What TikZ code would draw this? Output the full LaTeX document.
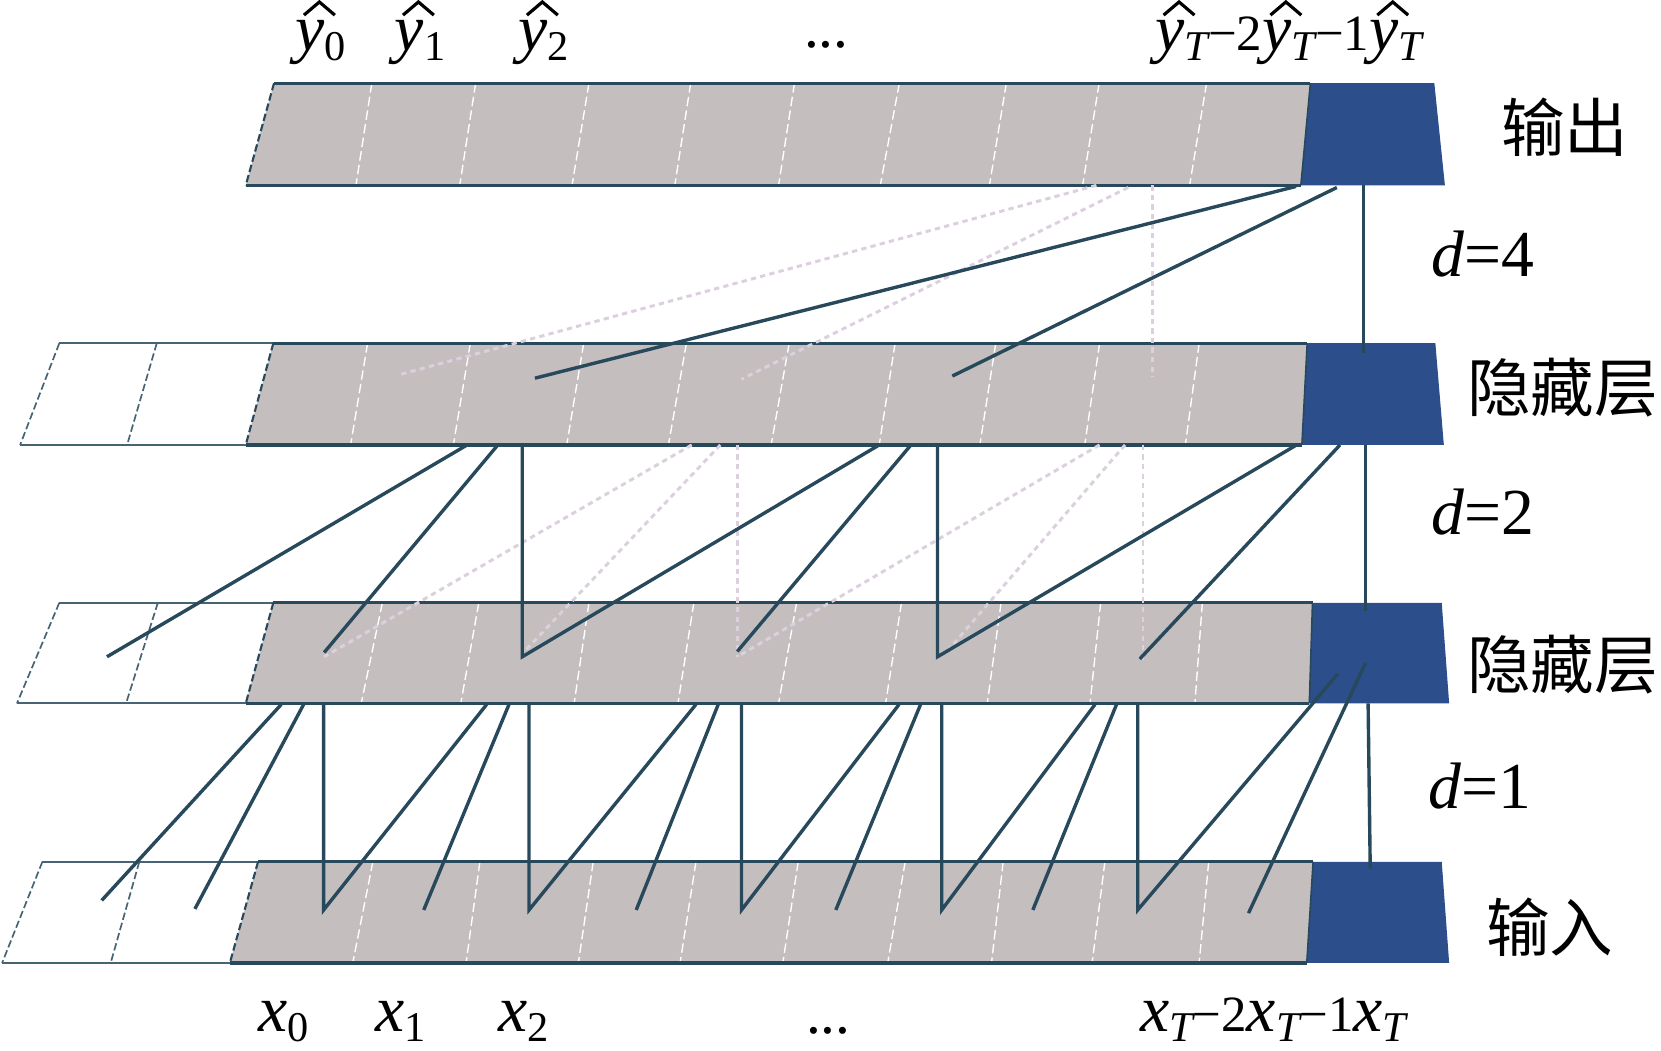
\documentclass[tikz,border=0pt]{standalone}
\usepackage{fontspec}
\setmainfont{Liberation Serif}
\newfontfamily\cjk{Noto Sans CJK SC}
\definecolor{cellgray}{HTML}{C4BEBE}
\definecolor{blk}{HTML}{2C4E8A}
\definecolor{ln}{HTML}{27495B}
\definecolor{pk}{HTML}{DCD0DE}
\newcommand{\yh}{\makebox[0pt][l]{\hspace{0.1em}\raisebox{0.52em}{\tikz\draw[black,line width=3pt,line join=miter,line cap=butt] (0,0) -- (0.235em,0.2em) -- (0.47em,0);}}\textit{y}}
\newcommand{\xvar}{\textit{x}}
\newcommand{\sbx}[1]{\raisebox{-0.15em}[0pt][0pt]{\fontsize{40}{40}\selectfont #1}}
\newcommand{\mn}[1]{{\fontsize{48}{48}\selectfont #1}}
\begin{document}
\begin{tikzpicture}[x=1pt,y=-1pt,
  edge/.style={draw=ln, line width=3pt},
  wedge/.style={draw=ln!85, line width=1.8pt},
  ledge/.style={draw=ln, line width=2pt, dash pattern=on 7pt off 3pt},
  wledge/.style={draw=ln!85, line width=1.6pt, dash pattern=on 7pt off 3pt},
  sepline/.style={draw=white, line width=1.3pt, dash pattern=on 9pt off 4pt},
  conn/.style={draw=ln, line width=3.2pt},
  dconn/.style={draw=pk, line width=2.8pt, dash pattern=on 5pt off 4pt},
  lab/.style={font=\fontsize{62}{70}\selectfont, inner sep=0pt},
  cjklab/.style={font=\cjk\fontsize{60}{66}\selectfont, inner sep=0pt}]
\useasboundingbox (0,0) rectangle (1568,992);

% ---------- layer 4 (output)
\fill[cellgray] (258.7,78.5) -- (1237,78.5) -- (1228,175) -- (232,175) -- cycle;
\foreach \a/\b in {351/336,449/434,556/540,652/637,750/735,849/831,950/934,1037.6/1022,1139/1123}
  \draw[sepline] (\a,78.5) -- (\b,175);
\draw[edge] (258.7,78.5) -- (1237,78.5);
\draw[edge] (232,175) -- (1228,175);
\draw[ledge] (258.7,78.5) -- (232,175);
\fill[blk] (1237,78.5) -- (1354,78.5) -- (1364,175) -- (1228,175) -- cycle;
\draw[ln, line width=1.5pt] (1237,78.5) -- (1228,175);

% ---------- layer 3 (hidden, upper)
\draw[wedge] (56,324) -- (258,324);
\draw[wedge] (19,420) -- (232,420);
\draw[wledge] (56,324) -- (19,420);
\draw[wledge] (148,324) -- (120,420);
\fill[cellgray] (258,324) -- (1234,324) -- (1229,420) -- (232,420) -- cycle;
\foreach \a/\b in {347/331,444/428,551/535,648/631,745/728,845/830,940/925,1038/1024,1132/1119}
  \draw[sepline] (\a,324) -- (\b,420);
\draw[edge] (258,324) -- (1234,324);
\draw[edge] (232,420) -- (1229,420);
\draw[ledge] (258,324) -- (232,420);
\fill[blk] (1234,324) -- (1355,324) -- (1363,420) -- (1229,420) -- cycle;
\draw[ln, line width=1.5pt] (1234,324) -- (1229,420);

% ---------- layer 2 (hidden, lower)
\draw[wedge] (56,569) -- (258,569);
\draw[wedge] (16,664) -- (232,664);
\draw[wledge] (56,569) -- (16,664);
\draw[wledge] (149,569) -- (119,664);
\fill[cellgray] (258,569) -- (1239,569) -- (1236,664) -- (232,664) -- cycle;
\foreach \a/\b in {361/341,452/435,556/542,655/640,752/735,851/836,945/932,1039/1029,1135/1128}
  \draw[sepline] (\a,569) -- (\b,664);
\draw[edge] (258,569) -- (1239,569);
\draw[edge] (232,664) -- (1236,664);
\draw[ledge] (258,569) -- (232,664);
\fill[blk] (1239,569) -- (1361,569) -- (1368,664) -- (1236,664) -- cycle;
\draw[ln, line width=1.5pt] (1239,569) -- (1236,664);

% ---------- layer 1 (input)
\draw[wedge] (40,813.5) -- (243.6,813.5);
\draw[wedge] (2,909) -- (217,909);
\draw[wledge] (40,813.5) -- (2,909);
\draw[wledge] (131.5,813.5) -- (104.5,909);
\fill[cellgray] (243.6,813.5) -- (1239.6,813.5) -- (1233.6,909) -- (217,909) -- cycle;
\foreach \a/\b in {352/333,453/440,560/546,657/642,753.5/739,854.5/838,947/936,1043/1031,1141/1132}
  \draw[sepline] (\a,813.5) -- (\b,909);
\draw[edge] (243.6,813.5) -- (1239.6,813.5);
\draw[edge] (217,909) -- (1233.6,909);
\draw[ledge] (243.6,813.5) -- (217,909);
\fill[blk] (1239.6,813.5) -- (1361,813.5) -- (1368,909) -- (1233.6,909) -- cycle;
\draw[ln, line width=1.5pt] (1239.6,813.5) -- (1233.6,909);

% ---------- connector end points
% d=4
\coordinate (o4a) at (1223.5,176); \coordinate (h3a) at (505,357);
\coordinate (o4b) at (1262,177);   \coordinate (h3b) at (899,355);
\coordinate (o4c) at (1287,175);   \coordinate (h3c) at (1287,333);
\coordinate (o4d) at (1035,175);   \coordinate (h3d) at (376,354);
\coordinate (o4e) at (1065,177);   \coordinate (h3e) at (700,358);
\coordinate (o4f) at (1088,175);   \coordinate (h3f) at (1088,356);
% d=2 (top ends on layer 3, bottom ends in layer 2)
\coordinate (t3a1) at (441,420); \coordinate (t3a2) at (470,420); \coordinate (t3a3) at (493,420);
\coordinate (t3b1) at (830,420); \coordinate (t3b2) at (860,420); \coordinate (t3b3) at (885,420);
\coordinate (t3c1) at (1224,420); \coordinate (t3c2) at (1265,420); \coordinate (t3c3) at (1289,420);
\coordinate (t3d1) at (653,420); \coordinate (t3d2) at (680,420); \coordinate (t3d3) at (696,420);
\coordinate (t3e1) at (1038,420); \coordinate (t3e2) at (1062,420); \coordinate (t3e3) at (1079,420);
\coordinate (p2a) at (101,620); \coordinate (p2b) at (306,616); \coordinate (p2c) at (493,620);
\coordinate (p2d) at (696,615); \coordinate (p2e) at (885,620); \coordinate (p2f) at (1076,622);
\coordinate (p2g) at (1289,577);
\coordinate (q2a) at (306,620); \coordinate (q2b) at (495,615); \coordinate (q2c) at (696,620);
\coordinate (q2d) at (894,615); \coordinate (q2e) at (1079,623);
% d=1 (top ends on layer 2, bottom ends in layer 1)
\coordinate (s2a1) at (265.5,665); \coordinate (s2a2) at (286.6,665); \coordinate (s2a3) at (305.5,665);
\coordinate (s2b1) at (459.4,665); \coordinate (s2b2) at (480.5,665); \coordinate (s2b3) at (499.4,665);
\coordinate (s2c1) at (657,665);   \coordinate (s2c2) at (678,665);   \coordinate (s2c3) at (700,665);
\coordinate (s2d1) at (848.7,665); \coordinate (s2d2) at (869,665);   \coordinate (s2d3) at (889,665);
\coordinate (s2e1) at (1033.7,665);\coordinate (s2e2) at (1054,665);  \coordinate (s2e3) at (1074,665);
\coordinate (s2f1) at (1263,636);  \coordinate (s2f2) at (1289,626);  \coordinate (s2f3) at (1291.5,664);
\coordinate (p1a) at (96,850);  \coordinate (p1b) at (184,858);  \coordinate (p1c) at (305.5,859);
\coordinate (p1d) at (400,859); \coordinate (p1e) at (499.4,859); \coordinate (p1f) at (600.6,859);
\coordinate (p1g) at (700,859); \coordinate (p1h) at (789,859);   \coordinate (p1i) at (889,859);
\coordinate (p1j) at (975,859); \coordinate (p1k) at (1074,859);  \coordinate (p1l) at (1178.6,862);
\coordinate (p1m) at (1293.5,820);

% ---------- dashed (light) connectors
\draw[dconn] (o4d) -- (h3d);
\draw[dconn] (o4e) -- (h3e);
\draw[dconn] (o4f) -- (h3f);
\draw[dconn] (t3d1) -- (q2a);
\draw[dconn] (t3d2) -- (q2b);
\draw[dconn] (t3d3) -- (q2c);
\draw[dconn] (t3e1) -- (q2c);
\draw[dconn] (t3e2) -- (q2d);
\draw[dconn] (t3e3) -- (q2e);

% ---------- solid connectors
\draw[conn] (o4a) -- (h3a);
\draw[conn] (o4b) -- (h3b);
\draw[conn] (o4c) -- (h3c);
\draw[conn] (t3a1) -- (p2a);
\draw[conn] (t3a2) -- (p2b);
\draw[conn] (t3b1) -- (p2c) -- (t3a3);
\draw[conn] (t3b2) -- (p2d);
\draw[conn] (t3c1) -- (p2e) -- (t3b3);
\draw[conn] (t3c2) -- (p2f);
\draw[conn] (t3c3) -- (p2g);
\draw[conn] (s2a1) -- (p1a);
\draw[conn] (s2a2) -- (p1b);
\draw[conn] (s2b1) -- (p1c) -- (s2a3);
\draw[conn] (s2b2) -- (p1d);
\draw[conn] (s2c1) -- (p1e) -- (s2b3);
\draw[conn] (s2c2) -- (p1f);
\draw[conn] (s2d1) -- (p1g) -- (s2c3);
\draw[conn] (s2d2) -- (p1h);
\draw[conn] (s2e1) -- (p1i) -- (s2d3);
\draw[conn] (s2e2) -- (p1j);
\draw[conn] (s2f1) -- (p1k) -- (s2e3);
\draw[conn] (s2f2) -- (p1l);
\draw[conn] (s2f3) -- (p1m);

% ---------- labels
\node[lab, anchor=base] (ly0) at (303,48) {\yh\sbx{0}};
\node[lab, anchor=base] (ly1) at (396.5,48) {\yh\sbx{1}};
\node[lab, anchor=base] (ly2) at (513.5,48) {\yh\sbx{2}};
\node[lab, anchor=base, font=\fontsize{56}{60}\selectfont] (lyd) at (780,45) {...};
\node[lab, anchor=base] (lyT) at (1216.5,48) {\yh\sbx{\itshape T}\mn{−2}\yh\sbx{\itshape T}\mn{−1}\yh\sbx{\itshape T}};

\node[lab, anchor=base] (lx0) at (268,974) {\xvar\sbx{0}};
\node[lab, anchor=base] (lx1) at (378,974) {\xvar\sbx{1}};
\node[lab, anchor=base] (lx2) at (494,974) {\xvar\sbx{2}};
\node[lab, anchor=base, font=\fontsize{56}{60}\selectfont] (lxd) at (782,976) {...};
\node[lab, anchor=base] (lxT) at (1202,974) {\xvar\sbx{\itshape T}\mn{−2}\xvar\sbx{\itshape T}\mn{−1}\xvar\sbx{\itshape T}};

\node[cjklab] (nout) at (1477,120) {输出};
\node[cjklab] (nh2) at (1475,366) {隐藏层};
\node[cjklab] (nh1) at (1475,627) {隐藏层};
\node[cjklab] (nin) at (1463,875) {输入};

\node[lab] (d4) at (1400,240) {\textit{d}=4};
\node[lab] (d2) at (1400,483) {\textit{d}=2};
\node[lab] (d1) at (1397,742) {\textit{d}=1};
\end{tikzpicture}
\end{document}
